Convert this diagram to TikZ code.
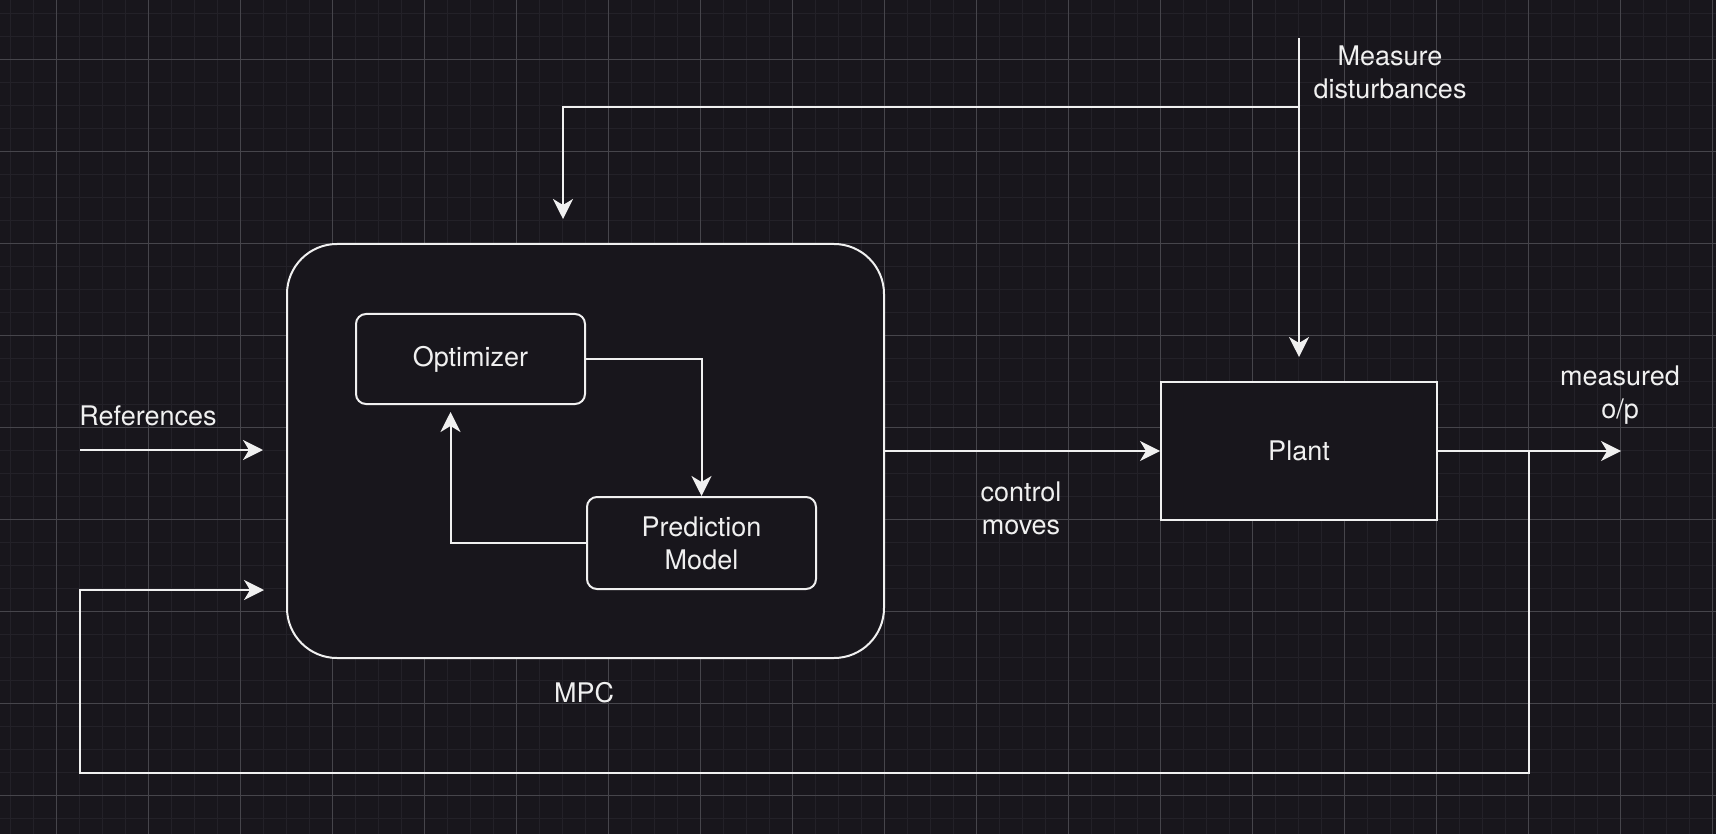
\documentclass[tikz,border=0pt]{standalone}
\usepackage{fontspec}
\setmainfont{TeX Gyre Heros}
\usetikzlibrary{arrows.meta,positioning}
\definecolor{bgdark}{HTML}{18161C}
\definecolor{gridminor}{HTML}{232128}
\definecolor{gridmajor}{HTML}{46454B}
\definecolor{linewhite}{HTML}{F0F0F0}
\tikzset{
  blockbox/.style={draw=linewhite, line width=2pt, fill=bgdark, text=linewhite,
    align=center, inner sep=0pt},
  flow/.style={draw=linewhite, line width=2pt,
    -{Stealth[length=20pt,width=20pt,inset=6pt]}},
  lbl/.style={text=linewhite, align=center},
}
\begin{document}
\begin{tikzpicture}[x=1pt, y=-1pt,
    font=\fontsize{27}{33}\selectfont]
  % Background and grid
  \useasboundingbox (0,0) rectangle (1716,834);
  \fill[bgdark] (0,0) rectangle (1716,834);
  \foreach \i in {0,...,74}
    \draw[gridminor, line width=1.5pt] ({10.7+23*\i},0) -- ({10.7+23*\i},834);
  \foreach \j in {0,...,35}
    \draw[gridminor, line width=1.5pt] (0,{13.3+23*\j}) -- (1716,{13.3+23*\j});
  \foreach \i in {0,...,18}
    \draw[gridmajor, line width=0.8pt] ({56.7+92*\i},0) -- ({56.7+92*\i},834);
  \foreach \j in {0,...,8}
    \draw[gridmajor, line width=0.8pt] (0,{59.3+92*\j}) -- (1716,{59.3+92*\j});

  % Blocks
  \node[blockbox, rounded corners=50pt, minimum width=597pt, minimum height=414pt]
    (mpc) at (585.5,451) {};
  \node[blockbox, rounded corners=10pt, minimum width=229pt, minimum height=90pt]
    (opt) at (470.5,359) {Optimizer};
  \node[blockbox, rounded corners=10pt, minimum width=229pt, minimum height=92pt]
    (pm) at (701.5,543) {Prediction\\Model};
  \node[blockbox, minimum width=276pt, minimum height=138pt]
    (plant) at (1299,451) {Plant};

  % Labels
  \node[lbl] (reflbl) at (148,416) {References};
  \node[lbl] (mpclbl) at (584,693) {MPC};
  \node[lbl] (ctllbl) at (1021,508) {control\\moves};
  \node[lbl] (outlbl) at (1620,395) {measured\\o/p};
  \node[lbl] (distlbl) at (1390,72) {Measure\\disturbances};

  % Free ends
  \coordinate (refin) at (80,450);
  \coordinate (fbj) at (1529,451);
  \coordinate (fbl) at (80,773);
  \coordinate (fbend) at (264,590);
  \coordinate (outend) at (1621,451);
  \coordinate (dtop) at (1299,38);
  \coordinate (dbr) at (1299,107);
  \coordinate (dmpc) at (563,219);

  % Connectors
  \draw[flow, shorten >=23pt] (refin) -- (mpc.west |- refin);
  \draw[flow] (fbj) |- (fbl) |- (fbend);
  \draw[flow] (mpc.east) -- (plant.west);
  \draw[flow] (plant.east) -- (outend);
  \draw[flow, shorten >=24pt] (dtop) -- (plant.north);
  \draw[flow] (dbr) -| (dmpc);
  \draw[flow] (opt.east) -| (pm.north);
  \draw[flow, shorten >=7pt] (pm.west) -| ([xshift=-20pt]opt.south);
\end{tikzpicture}
\end{document}
